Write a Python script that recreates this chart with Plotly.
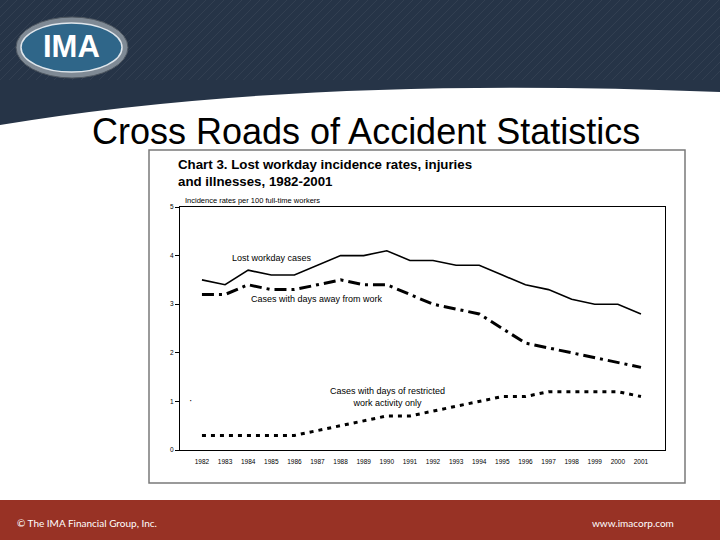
import plotly.graph_objects as go

years = list(range(1982, 2002))
year_labels = [str(y) for y in years]
lost_workday = [3.5, 3.4, 3.7, 3.6, 3.6, 3.8, 4.0, 4.0, 4.1, 3.9, 3.9, 3.8, 3.8, 3.6, 3.4, 3.3, 3.1, 3.0, 3.0, 2.8]
days_away = [3.2, 3.2, 3.4, 3.3, 3.3, 3.4, 3.5, 3.4, 3.4, 3.2, 3.0, 2.9, 2.8, 2.5, 2.2, 2.1, 2.0, 1.9, 1.8, 1.7]
restricted = [0.3, 0.3, 0.3, 0.3, 0.3, 0.4, 0.5, 0.6, 0.7, 0.7, 0.8, 0.9, 1.0, 1.1, 1.1, 1.2, 1.2, 1.2, 1.2, 1.1]
y_ticks = [0, 1, 2, 3, 4, 5]

W, H = 720, 540


def px(x):
    return x / W


def py(y):
    return 1 - y / H


fig = go.Figure()
fig.add_trace(go.Scatter(x=years, y=lost_workday, mode="lines",
                         line=dict(color="black", width=1.6), showlegend=False, hoverinfo="skip"))
fig.add_trace(go.Scatter(x=years, y=days_away, mode="lines",
                         line=dict(color="black", width=3, dash="12px,5px,3px,5px"), showlegend=False, hoverinfo="skip"))
fig.add_trace(go.Scatter(x=years, y=restricted, mode="lines",
                         line=dict(color="black", width=3, dash="4px,5px"), showlegend=False, hoverinfo="skip"))

shapes = []
# header band
shapes.append(dict(type="path", xref="paper", yref="paper",
                   path=f"M 0,1 L 1,1 L 1,{py(92)} Q {px(300)},{py(75)} 0,{py(125)} Z",
                   fillcolor="#263447", line=dict(width=0), layer="below"))
# subtle diagonal stripes in header (upper part only)
for i in range(-10, 90):
    x0 = i * 9
    shapes.append(dict(type="line", xref="paper", yref="paper",
                       x0=px(x0), y0=py(80), x1=px(x0 + 80), y1=py(0),
                       line=dict(color="rgba(255,255,255,0.06)", width=1), layer="below"))
# footer
shapes.append(dict(type="rect", xref="paper", yref="paper",
                   x0=0, x1=1, y0=0, y1=py(500),
                   fillcolor="#983225", line=dict(width=0), layer="below"))
# logo
shapes.append(dict(type="circle", xref="paper", yref="paper",
                   x0=px(16), x1=px(128), y0=py(78), y1=py(17),
                   fillcolor="#7f8a95", line=dict(color="#4d5660", width=1), layer="below"))
shapes.append(dict(type="circle", xref="paper", yref="paper",
                   x0=px(21), x1=px(122), y0=py(72), y1=py(23),
                   fillcolor="#2f6689", line=dict(color="#dfe6ec", width=1.5), layer="below"))
# chart box
shapes.append(dict(type="rect", xref="paper", yref="paper",
                   x0=px(149), x1=px(685), y0=py(483), y1=py(150),
                   fillcolor="white", line=dict(color="#7a7a7a", width=1.5), layer="below"))

annotations = [
    dict(text="<b>IMA</b>", x=px(71), y=py(47), xref="paper", yref="paper", showarrow=False,
         font=dict(family="Liberation Sans, Arial", size=31, color="white"), xanchor="center", yanchor="middle"),
    dict(text="Cross Roads of Accident Statistics", x=px(366), y=py(131), xref="paper", yref="paper",
         showarrow=False, font=dict(family="Liberation Sans Narrow, Arial Narrow, Liberation Sans", size=36, color="black"),
         xanchor="center", yanchor="middle"),
    dict(text="<b>Chart 3. Lost workday incidence rates, injuries<br>and illnesses, 1982-2001</b>",
         x=px(176), y=py(155), xref="paper", yref="paper", showarrow=False, align="left",
         font=dict(family="Liberation Sans, Arial", size=13.3, color="black"), xanchor="left", yanchor="top"),
    dict(text="Incidence rates per 100 full-time workers", x=px(183), y=py(207), xref="paper", yref="paper",
         showarrow=False, font=dict(family="Liberation Sans, Arial", size=7.5, color="black"),
         xanchor="left", yanchor="bottom"),
    dict(text="Lost workday cases", x=px(230), y=py(258), xref="paper", yref="paper", showarrow=False,
         font=dict(family="Liberation Sans, Arial", size=9, color="black"), xanchor="left", yanchor="middle"),
    dict(text="Cases with days away from work", x=px(249), y=py(299), xref="paper", yref="paper", showarrow=False,
         font=dict(family="Liberation Sans, Arial", size=9, color="black"), xanchor="left", yanchor="middle"),
    dict(text="Cases with days of restricted<br>work activity only", x=px(387), y=py(397), xref="paper", yref="paper",
         showarrow=False, align="center",
         font=dict(family="Liberation Sans, Arial", size=9, color="black"), xanchor="center", yanchor="middle"),
    dict(text="·", x=px(190), y=py(400), xref="paper", yref="paper", showarrow=False,
         font=dict(family="Liberation Sans, Arial", size=10, color="black"), xanchor="center", yanchor="middle"),
    dict(text="© The IMA Financial Group, Inc.", x=px(15), y=py(523), xref="paper", yref="paper", showarrow=False,
         font=dict(family="Lato, Liberation Sans", size=10, color="white"), xanchor="left", yanchor="middle"),
    dict(text="www.imacorp.com", x=px(676), y=py(523), xref="paper", yref="paper", showarrow=False,
         font=dict(family="Lato, Liberation Sans", size=10, color="white"), xanchor="right", yanchor="middle"),
]

fig.update_layout(
    width=W, height=H,
    margin=dict(l=0, r=0, t=0, b=0, autoexpand=False),
    paper_bgcolor="white", plot_bgcolor="rgba(0,0,0,0)",
    shapes=shapes, annotations=annotations,
    xaxis=dict(domain=[px(180), px(665)], range=[1981.05, 2002.04],
               tickmode="array", tickvals=years, ticktext=year_labels,
               tickfont=dict(family="Liberation Sans, Arial", size=6.5, color="black"),
               ticklabelstandoff=5,
               showgrid=False, zeroline=False, showline=True, linecolor="black", linewidth=1,
               mirror=True, ticks="", fixedrange=True),
    yaxis=dict(domain=[py(450), py(207)], range=[0, 5],
               tickmode="array", tickvals=y_ticks,
               tickfont=dict(family="Liberation Sans, Arial", size=6.5, color="black"),
               showgrid=False, zeroline=False, showline=True, linecolor="black", linewidth=1.2,
               mirror=True, ticks="outside", ticklen=4, tickcolor="black", fixedrange=True),
)

fig.write_html("out.html", config={"displayModeBar": False},
               post_script="document.body.style.margin='0';document.body.style.overflow='hidden';")
